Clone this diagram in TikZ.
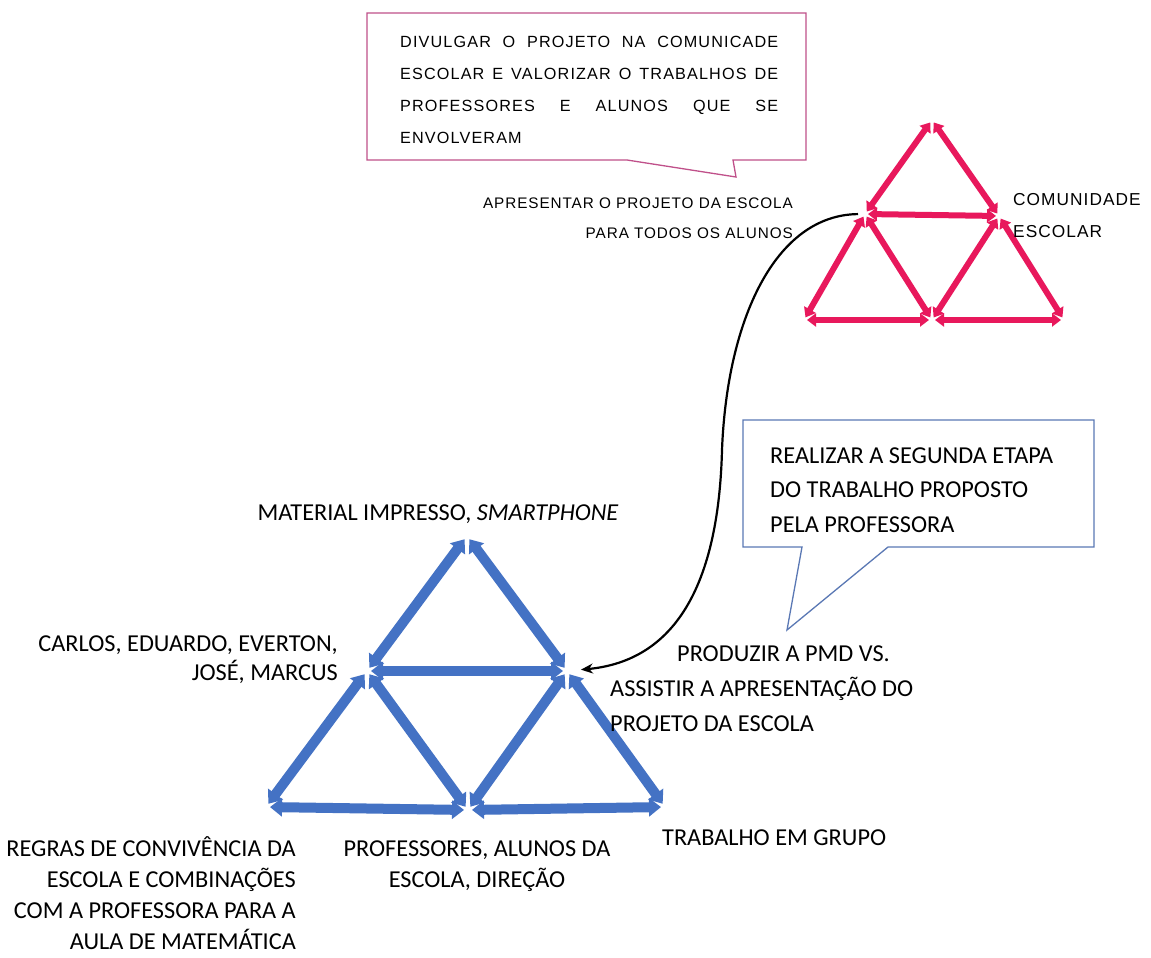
\documentclass[tikz,border=0pt]{standalone}
\usepackage{fontspec}
\setmainfont{Carlito}
\newfontfamily\boxfont[LetterSpace=7]{Liberation Sans}
\newfontfamily\sidefont[LetterSpace=6]{Liberation Sans}
\usetikzlibrary{arrows.meta}

\definecolor{triblue}{HTML}{4472C4}
\definecolor{tripink}{HTML}{E8185C}
\definecolor{pinkframe}{HTML}{C0508A}
\definecolor{blueframe}{HTML}{5A78B4}

\newcommand{\fullline}[1]{\makebox[378pt][s]{#1}}

\tikzset{
  bluelink/.style={draw=triblue, line width=10pt,
    {Triangle[length=12pt,width=18pt]}-{Triangle[length=12pt,width=18pt]},
    shorten <=4pt, shorten >=4pt},
  pinklink/.style={draw=tripink, line width=6pt,
    {Triangle[length=9pt,width=13pt]}-{Triangle[length=9pt,width=13pt]},
    shorten <=3pt, shorten >=3pt},
  label/.style={inner sep=0pt, font=\fontsize{24.3}{31}\selectfont},
  boxlabel/.style={inner sep=0pt, font=\boxfont\fontsize{16.2}{31.7}\selectfont},
  sidelabel/.style={inner sep=0pt, font=\sidefont\fontsize{15.3}{30}\selectfont},
  callout/.style={line width=1.3pt, fill=white}
}

\begin{document}
\begin{tikzpicture}[x=1pt,y=-1pt]
\useasboundingbox[fill=white] (0,0) rectangle (1151,958);

% speech bubbles
\draw[callout, draw=pinkframe]
  (367,13) -- (806,13) -- (806,160) -- (733,160) -- (736,177) -- (627,160) -- (367,160) -- cycle;
\draw[callout, draw=blueframe]
  (743,420) -- (1094,420) -- (1094,547) -- (888,547) -- (787,630) -- (802,547) -- (743,547) -- cycle;

% vertices of the community triangle
\coordinate (pT)  at (932,120);
\coordinate (pML) at (865,214);
\coordinate (pMR) at (999,216);
\coordinate (pBL) at (804,320);
\coordinate (pBM) at (932,320);
\coordinate (pBR) at (1064,320);

% vertices of the classroom triangle
\coordinate (bT)  at (467,536);
\coordinate (bML) at (367,671);
\coordinate (bMR) at (567,671);
\coordinate (bBL) at (266,807);
\coordinate (bBM) at (468,810);
\coordinate (bBR) at (665,807);

\foreach \a/\b in {pT/pML, pT/pMR, pML/pMR, pML/pBL, pML/pBM, pMR/pBM, pMR/pBR, pBL/pBM, pBM/pBR}
  \draw[pinklink] (\a) -- (\b);
\foreach \a/\b in {bT/bML, bT/bMR, bML/bMR, bML/bBL, bML/bBM, bMR/bBM, bMR/bBR, bBL/bBM, bBM/bBR}
  \draw[bluelink] (\a) -- (\b);

% link from the community level down to the classroom level
\draw[line width=2.2pt, -{Stealth[length=12pt,width=10pt]}, shorten <=7pt, shorten >=14pt]
  (pML) .. controls (775,215) and (727,320) .. (722,450)
        .. controls (718,605) and (662,662) .. (bMR);

% bubble texts
\node[boxlabel, anchor=base west, align=left] (divulgar) at (400,143)
  {\fullline{DIVULGAR O PROJETO NA COMUNICADE}\\
   \fullline{ESCOLAR E VALORIZAR O TRABALHOS DE}\\
   \fullline{PROFESSORES E ALUNOS QUE SE}\\
   ENVOLVERAM};
\node[label, anchor=base west, align=left, font=\fontsize{24.3}{34.5}\selectfont] (realizar) at (770,532)
  {REALIZAR A SEGUNDA ETAPA\\DO TRABALHO PROPOSTO\\PELA PROFESSORA};

% labels of the community triangle
\node[sidelabel, anchor=base east, align=right] (apresentar) at (793,238.5)
  {APRESENTAR O PROJETO DA ESCOLA\\PARA TODOS OS ALUNOS};
\node[sidelabel, anchor=base west, align=left, font=\sidefont\fontsize{17.3}{32}\selectfont] (comunidade) at (1013,237)
  {COMUNIDADE\\ESCOLAR};

% labels of the classroom triangle
\node[label, anchor=base] (material) at (438,520)
  {MATERIAL IMPRESSO, \textit{SMARTPHONE}};
\node[label, anchor=base east, align=right, font=\fontsize{24.3}{29}\selectfont] (sujeitos) at (338,680)
  {CARLOS, EDUARDO, EVERTON,\\JOSÉ, MARCUS};
\node[label, anchor=base west, align=left, font=\fontsize{24.3}{35}\selectfont] (objeto) at (610,731)
  {\hspace*{67pt}PRODUZIR A PMD VS.\\ASSISTIR A APRESENTAÇÃO DO\\PROJETO DA ESCOLA};
\node[label, anchor=base west] (divisao) at (662,845) {TRABALHO EM GRUPO};
\node[label, anchor=base, align=center] (comunidadeb) at (477,887)
  {PROFESSORES, ALUNOS DA\\ESCOLA, DIREÇÃO};
\node[label, anchor=base east, align=right] (regras) at (296,949)
  {REGRAS DE CONVIVÊNCIA DA\\ESCOLA E COMBINAÇÕES\\COM A PROFESSORA PARA A\\AULA DE MATEMÁTICA};
\end{tikzpicture}
\end{document}
